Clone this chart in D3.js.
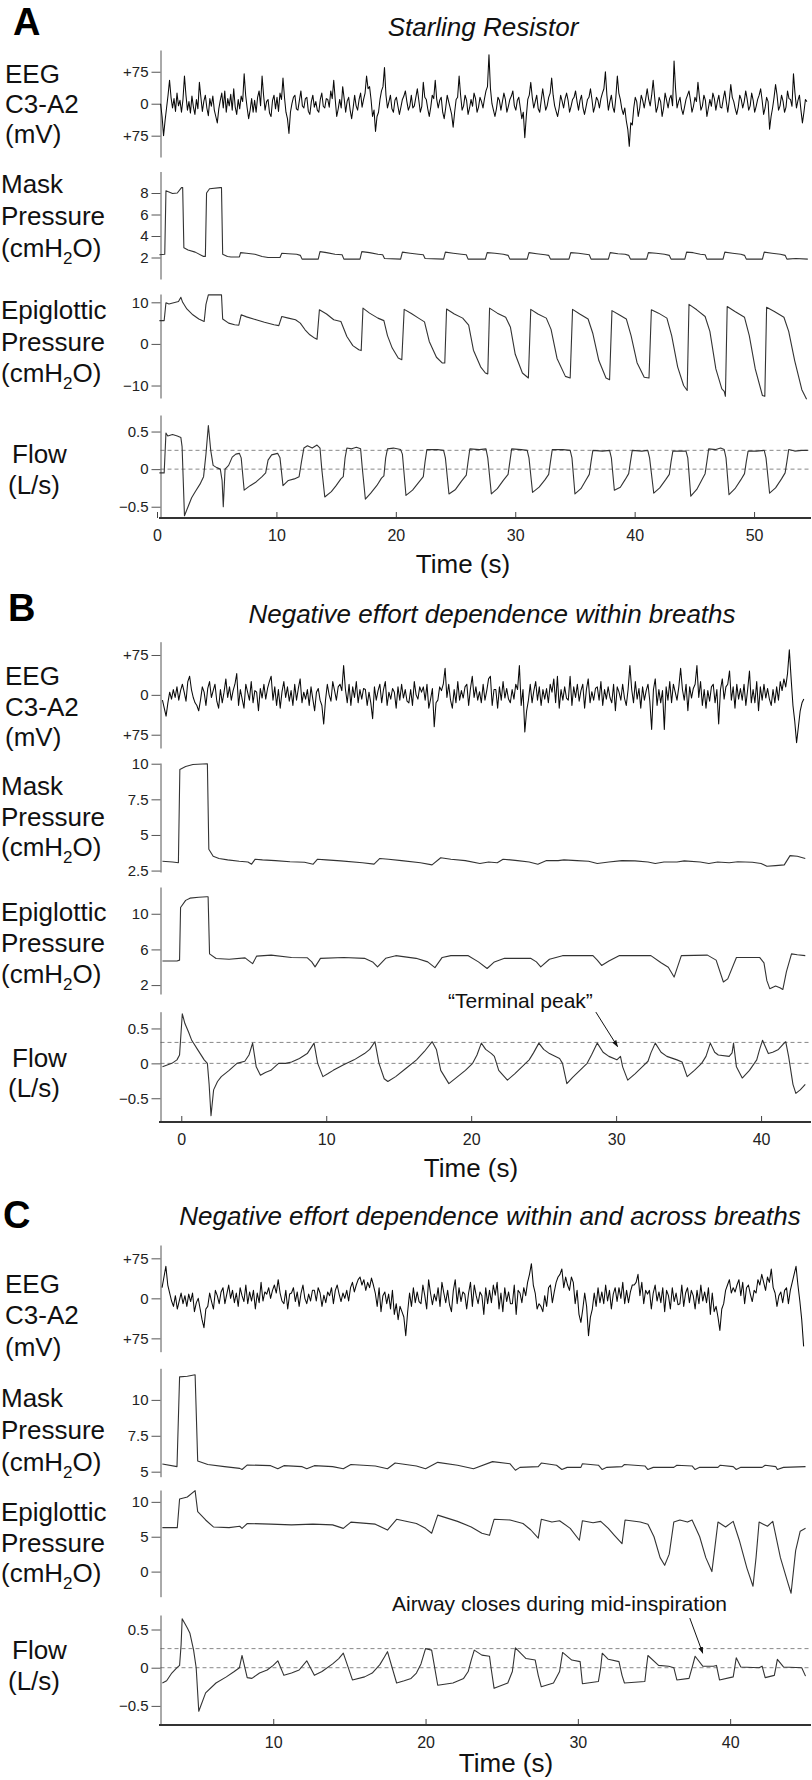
<!DOCTYPE html>
<html><head><meta charset="utf-8">
<script src="https://cdn.jsdelivr.net/npm/d3@7/dist/d3.min.js"></script>
<style>
body{margin:0;background:#fff;}
svg{display:block;}
</style></head><body>
<svg id="chart" width="812" height="1780"></svg>
<script>
// ===================== DATA =====================
// Panel A (Starling Resistor) — time in s
const eegA_t0 = 0.3, eegA_dt = 0.125;
const eegA = [0,-30,-75,-40,-10,20,55,15, -10,12,-18,25,-5,8,-20,10, 65,20,-15,5,-22,18,-8,-25,
 10,-12,50,15,-18,6,20,-10, -28,12,-6,18,-15,-30,-45,-12, 8,25,-10,30,-20,12,-5,22,
 -15,35,-8,-25,10,-12,18,5, 70,20,-10,-35,-15,12,-20,8, -20,15,30,-5,65,20,-15,5,
 10,-22,-30,8,20,-12,15,-18, 25,10,60,15,-20,-35,-70,-20, 0,15,20,-12,-15,8,30,-5,
 -10,12,15,-18,-25,5,20,-8, 5,-15,-20,10,25,-6,-10,12, 10,-8,30,12,55,10,-30,-12,
 10,-10,40,12,-20,6,15,-15, -35,-10,20,-5,-15,10,25,-8, 10,25,65,35,40,10,-30,-15,
 -65,-30,-20,10,30,40,85,20, -10,5,20,-12,-20,8,15,-6, -25,-8,10,18,30,5,-15,-5,
 20,-10,-5,15,35,8,-20,-6, 50,15,10,-12,-30,-8,20,12, 55,10,-10,8,15,-20,-35,-10,
 20,5,-10,-25,-55,-20,10,15, 65,20,-15,-5,20,8,-25,-10, 10,-6,25,12,-20,-8,15,5,
 -10,12,30,40,115,35,0,-15, -30,-12,15,8,-15,5,25,10, -20,-6,10,18,30,-5,-15,8,
 15,-10,-35,-20,-80,-30,10,20, 50,15,-10,5,20,-12,-20,8, 35,10,-15,-5,15,25,60,20,
 -5,-18,-30,-10,20,6,-10,12, 25,8,-20,-6,10,15,30,5, -15,8,20,-10,-25,-8,10,15,
 35,10,-20,-6,15,8,-10,12, 25,35,75,20,-15,5,20,-8, -20,15,65,25,10,-12,-25,-10,
 -40,-60,-100,-45,-50,-10,15,5, -30,-10,20,8,-10,12,35,10, -5,20,55,15,-20,-8,15,5,
 -30,-10,25,8,-10,12,20,-5, 100,35,-10,5,15,-12,-25,-8, 10,20,30,8,-20,-6,15,5,
 50,15,-15,-5,20,8,-30,-10, 10,-6,25,12,-15,5,20,-8, -10,12,30,5,-20,8,45,15,
 5,-12,-25,-8,20,10,-10,5, 30,10,-15,-5,25,8,-20,-6, 10,20,35,8,-25,-10,15,5,
 -60,-30,-10,15,45,20,-15,-5, 20,6,-20,-8,30,12,10,-6, 70,25,-10,8,20,-15,-45,-20,
 10,5];
const maskA = [[0.2,2.25],[0.65,2.3],[0.75,8.2],[1.0,8.1],[1.3,7.95],[1.7,8.0],[2.05,8.5],[2.15,8.5],[2.25,2.9],[2.6,2.7],[3.2,2.5],[3.9,2.1],[4.05,2.1],[4.15,8.0],[4.4,8.4],[5.3,8.5],[5.4,8.5],[5.5,2.3],[5.9,2.1],[6.2,2.05],[6.9,2.05],[7.0,2.45],[7.5,2.4],[8.2,2.3],[8.8,2.1],[9.3,2.0],[10.3,2.0],[10.45,2.4],[11.0,2.35],[11.7,2.3],[12.0,2.2],[12.15,1.85],[13.5,1.85],[13.65,2.55],[14.2,2.45],[14.9,2.3],[15.5,2.25],[15.65,1.85],[17.0,1.85],[17.15,2.55],[17.8,2.45],[18.5,2.3],[18.9,2.25],[19.05,1.9],[20.4,1.85],[20.55,2.5],[21.2,2.4],[21.9,2.3],[22.3,2.25],[22.45,1.9],[24.0,1.85],[24.15,2.5],[24.8,2.4],[25.5,2.3],[25.9,2.25],[26.05,1.85],[27.5,1.85],[27.65,2.45],[28.3,2.4],[29.0,2.3],[29.4,2.2],[29.55,1.85],[31.0,1.85],[31.15,2.45],[31.8,2.35],[32.5,2.25],[32.8,2.2],[32.95,1.85],[34.5,1.85],[34.65,2.45],[35.3,2.4],[35.9,2.3],[36.2,2.25],[36.35,1.85],[37.8,1.85],[37.95,2.45],[38.6,2.35],[39.2,2.3],[39.5,2.2],[39.65,1.85],[41.0,1.85],[41.15,2.45],[41.8,2.4],[42.5,2.3],[42.9,2.2],[43.05,1.85],[44.2,1.85],[44.35,2.5],[44.9,2.45],[45.5,2.3],[45.9,2.25],[46.05,1.85],[47.4,1.85],[47.55,2.5],[48.2,2.4],[48.9,2.3],[49.2,2.2],[49.35,1.85],[50.7,1.85],[50.85,2.5],[51.5,2.4],[52.2,2.3],[52.6,2.2],[52.75,1.85],[53.5,1.9],[54.5,1.85]];
const epiA = [[0.2,5.6],[0.6,5.6],[0.75,9.9],[1.0,9.6],[1.4,9.9],[1.8,10.2],[2.0,11.2],[2.15,10.0],[2.5,8.4],[3.0,7.0],[3.5,6.0],[3.95,5.4],[4.1,9.5],[4.3,11.8],[5.4,11.8],[5.5,6.0],[6.0,5.0],[6.5,4.6],[6.85,4.5],[7.05,7.0],[7.5,6.5],[8.3,5.8],[9.0,5.2],[9.8,4.6],[10.2,4.4],[10.45,6.6],[11.0,6.2],[11.6,5.8],[12.0,5.0],[12.4,3.4],[12.8,2.2],[13.2,1.4],[13.4,1.1],[13.6,8.2],[14.2,7.2],[14.8,5.8],[15.4,5.4],[15.9,1.8],[16.4,-0.4],[16.9,-1.4],[17.1,-1.6],[17.25,8.6],[17.8,7.4],[18.5,6.2],[19.0,5.6],[19.3,2.0],[19.7,-1.0],[20.2,-3.4],[20.5,-3.8],[20.7,8.3],[21.3,7.3],[21.9,6.2],[22.4,5.3],[22.8,0.6],[23.4,-3.2],[23.9,-4.6],[24.1,-4.6],[24.25,8.4],[24.9,7.2],[25.6,6.2],[26.1,4.5],[26.5,-1.5],[27.1,-5.5],[27.5,-7.0],[27.7,-7.2],[27.85,8.6],[28.5,7.4],[29.2,6.4],[29.6,4.0],[30.0,-2.5],[30.6,-7.0],[31.1,-8.2],[31.3,8.3],[31.9,7.2],[32.6,6.2],[33.0,3.5],[33.5,-3.5],[34.2,-7.8],[34.6,-8.2],[34.8,8.3],[35.4,7.2],[36.1,6.0],[36.5,2.5],[37.0,-4.0],[37.6,-8.2],[37.9,-8.6],[38.1,8.0],[38.7,7.0],[39.3,6.0],[39.7,2.0],[40.2,-4.5],[40.8,-8.0],[41.2,-8.2],[41.4,8.2],[42.0,7.4],[42.7,6.2],[43.1,2.0],[43.6,-5.5],[44.1,-10.0],[44.4,-11.2],[44.55,9.5],[45.2,8.2],[45.9,6.6],[46.3,3.0],[46.8,-6.0],[47.3,-10.8],[47.5,-11.4],[47.6,-12.6],[47.75,9.0],[48.4,7.8],[49.2,6.4],[49.6,2.0],[50.1,-6.0],[50.7,-12.4],[50.9,-12.6],[51.05,8.8],[51.7,7.8],[52.5,6.4],[52.9,3.0],[53.4,-4.0],[54.0,-11.0],[54.4,-13.3]];
const flowA = [[0.2,-0.05],[0.6,-0.05],[0.75,0.48],[0.9,0.44],[1.3,0.46],[1.7,0.44],[2.0,0.42],[2.1,0.3],[2.3,-0.62],[2.6,-0.5],[2.9,-0.38],[3.2,-0.3],[3.6,-0.2],[3.9,-0.1],[4.1,0.2],[4.3,0.58],[4.5,0.25],[4.7,0.05],[5.0,0.02],[5.3,0.0],[5.45,-0.15],[5.55,-0.5],[5.7,0.0],[6.0,0.05],[6.3,0.16],[6.6,0.2],[6.9,0.21],[7.05,0.15],[7.3,-0.28],[7.8,-0.22],[8.3,-0.17],[8.8,-0.1],[9.1,-0.05],[9.3,0.12],[9.6,0.19],[10.1,0.21],[10.3,0.15],[10.55,-0.22],[11.0,-0.15],[11.5,-0.13],[11.9,-0.1],[12.1,0.1],[12.3,0.28],[12.6,0.31],[13.0,0.28],[13.4,0.32],[13.65,0.28],[13.8,0.0],[14.05,-0.37],[14.6,-0.3],[15.0,-0.22],[15.4,-0.13],[15.6,-0.1],[15.75,0.15],[15.9,0.28],[16.3,0.27],[16.7,0.29],[17.05,0.27],[17.2,0.0],[17.45,-0.4],[17.9,-0.32],[18.4,-0.22],[18.8,-0.12],[19.0,-0.09],[19.15,0.15],[19.3,0.27],[19.8,0.28],[20.4,0.26],[20.55,0.2],[20.85,-0.35],[21.4,-0.28],[21.9,-0.18],[22.3,-0.1],[22.45,0.1],[22.6,0.26],[23.5,0.26],[24.0,0.25],[24.15,0.15],[24.45,-0.33],[25.0,-0.27],[25.5,-0.16],[25.9,-0.08],[26.05,0.1],[26.2,0.27],[27.0,0.26],[27.55,0.27],[27.7,0.15],[28.0,-0.33],[28.5,-0.26],[29.0,-0.15],[29.4,-0.07],[29.55,0.1],[29.7,0.27],[30.5,0.26],[31.0,0.25],[31.15,0.15],[31.45,-0.31],[32.0,-0.24],[32.5,-0.14],[32.8,-0.07],[32.95,0.1],[33.1,0.26],[34.0,0.26],[34.6,0.25],[34.75,0.15],[35.0,-0.33],[35.5,-0.26],[35.9,-0.15],[36.2,-0.07],[36.35,0.1],[36.5,0.25],[37.3,0.24],[37.9,0.25],[38.05,0.15],[38.3,-0.28],[38.8,-0.24],[39.2,-0.14],[39.5,-0.06],[39.65,0.1],[39.8,0.25],[40.6,0.24],[41.1,0.25],[41.25,0.15],[41.6,-0.32],[42.1,-0.25],[42.6,-0.14],[42.9,-0.07],[43.05,0.1],[43.2,0.24],[43.8,0.24],[44.3,0.24],[44.45,0.15],[44.7,-0.36],[45.2,-0.27],[45.6,-0.15],[45.9,-0.06],[46.05,0.1],[46.2,0.27],[46.8,0.26],[47.2,0.28],[47.5,0.26],[47.65,0.15],[47.9,-0.34],[48.4,-0.26],[48.9,-0.14],[49.2,-0.06],[49.35,0.1],[49.5,0.24],[50.2,0.24],[50.85,0.25],[51.0,0.15],[51.3,-0.32],[51.8,-0.25],[52.3,-0.13],[52.6,-0.05],[52.75,0.1],[52.9,0.26],[53.4,0.24],[54.0,0.25],[54.5,0.25]];

// Panel B (within breaths)
const eegB_t0 = -1.3, eegB_dt = 0.125;
const eegB = [-10,-25,-40,-15,5,-8,10,-5, 15,-10,8,20,5,-12,25,35, 10,-5,-15,-20,-30,-10,15,5,
 -20,12,25,-5,8,20,-12,-25, 10,-15,5,30,-5,15,-10,8, 20,40,-20,10,-8,-25,20,5,
 -10,25,-15,8,5,-30,12,-6, 20,-8,12,25,35,-10,15,-20, 10,-25,6,25,-5,15,-12,8,
 -20,20,-10,12,30,-15,5,-8, 10,-20,15,-8,-30,5,12,-10, -20,-55,-10,20,0,-12,25,8,
 -10,15,20,8,55,10,-15,20, -20,15,-5,25,-15,10,-8,12, 10,-20,5,-15,-45,15,-10,8,
 20,-15,10,25,-20,5,-8,12, 5,-25,15,-10,20,-6,10,-12, -15,10,-20,25,0,-8,15,5,
 15,-10,20,-25,-8,12,-60,-15, -10,15,8,20,50,-5,20,-10, -25,10,-15,25,-10,8,-6,15,
 20,-20,12,35,-5,15,-10,6, -15,20,-10,8,30,35,-20,10, 10,-25,15,-10,25,-6,12,-8,
 -15,10,-8,20,10,55,-20,10, -70,-30,-10,20,-15,8,25,-10, 15,-20,10,-8,12,-15,20,5,
 30,-15,35,-25,10,-10,15,-6, -10,35,-20,15,-5,20,-12,8, 20,-25,10,30,-15,6,-10,12,
 15,-10,25,-20,10,-8,15,-5, -15,20,-30,15,5,-10,20,-6, -20,10,55,10,-15,25,-8,12,
 -25,15,-10,8,20,-12,-65,10, 30,-20,10,-15,8,-65,15,-10, 25,-15,20,5,-10,15,50,10,
 -10,20,-30,15,-6,12,20,55, -5,25,-20,10,-25,8,-12,15, 20,-15,10,-55,10,30,-8,15,
 20,45,-10,15,-25,20,-8,12, -10,20,-20,10,45,-15,10,-15, 25,-30,15,-10,20,-6,12,-8,
 -20,10,-15,15,-10,25,8,30, 15,40,85,30,-20,-50,-90,-60, -30,-15,-8];
const maskB = [[-1.3,3.15],[-0.6,3.1],[-0.2,3.05],[-0.1,9.6],[0.3,9.8],[0.8,9.95],[1.8,10.0],[1.9,4.0],[2.2,3.5],[2.6,3.35],[3.2,3.25],[4.0,3.15],[4.6,3.1],[4.85,2.95],[5.1,3.3],[5.6,3.25],[6.5,3.2],[7.5,3.12],[8.5,3.08],[9.1,2.95],[9.4,3.3],[10.0,3.25],[11.0,3.18],[12.5,3.05],[13.3,2.95],[13.7,3.35],[14.3,3.3],[15.2,3.2],[16.5,3.05],[17.3,2.9],[17.9,3.4],[18.6,3.3],[19.6,3.2],[20.6,3.0],[21.2,3.1],[21.8,3.05],[22.2,3.3],[23.2,3.2],[24.0,3.1],[24.6,2.95],[25.2,3.2],[26.0,3.2],[26.4,3.25],[27.3,3.2],[28.1,3.15],[28.7,3.0],[29.5,3.1],[30.4,3.2],[31.3,3.18],[32.2,3.1],[32.7,3.0],[33.3,3.1],[34.2,3.1],[34.7,3.18],[35.8,3.1],[36.4,3.0],[37.0,3.1],[37.8,3.05],[38.4,3.12],[39.4,3.08],[40.0,3.0],[40.4,2.8],[41.0,2.85],[41.6,2.9],[42.0,3.55],[42.5,3.5],[43.05,3.35]];
const epiB = [[-1.3,4.7],[-0.3,4.7],[-0.12,4.8],[-0.05,10.7],[0.3,11.5],[0.6,11.75],[1.2,11.85],[1.75,11.9],[1.85,11.9],[1.95,5.5],[2.4,4.98],[3.3,4.9],[4.4,5.05],[4.6,4.8],[4.92,4.4],[5.2,5.25],[6.2,5.36],[7.6,5.1],[8.7,5.06],[9.0,4.6],[9.23,4.04],[9.6,5.0],[11.2,5.1],[12.64,5.0],[13.2,4.6],[13.54,4.04],[14.1,5.0],[14.8,5.3],[16.2,5.0],[17.0,4.6],[17.5,3.96],[18.0,5.1],[18.6,5.3],[19.8,5.3],[20.5,4.6],[21.1,3.86],[21.6,4.6],[22.3,5.0],[24.1,5.0],[24.5,4.6],[24.8,4.04],[25.4,4.9],[26.3,5.3],[28.4,5.3],[28.7,4.8],[29.0,4.2],[29.5,4.7],[30.2,5.3],[32.4,5.3],[33.1,4.5],[33.6,4.0],[34.0,2.9],[34.5,5.3],[36.3,5.36],[36.9,4.8],[37.4,2.35],[37.7,2.7],[38.3,5.1],[39.9,5.1],[40.2,4.5],[40.4,2.5],[40.6,1.6],[41.0,1.9],[41.3,1.7],[41.5,1.5],[41.75,3.5],[42.1,5.5],[42.5,5.4],[43.05,5.3]];
const flowB = [[-1.3,-0.05],[-0.65,0.0],[-0.3,0.05],[-0.12,0.12],[0.07,0.71],[0.25,0.57],[0.5,0.45],[0.72,0.33],[1.15,0.19],[1.58,0.05],[1.8,0.0],[1.92,-0.3],[2.05,-0.75],[2.23,-0.38],[2.5,-0.26],[2.76,-0.19],[3.3,-0.1],[3.84,0.0],[4.38,0.03],[4.67,0.12],[4.92,0.29],[5.17,-0.05],[5.46,-0.17],[5.8,-0.13],[6.18,-0.1],[6.71,0.0],[7.2,0.0],[7.61,0.02],[8.15,0.07],[8.69,0.14],[9.16,0.29],[9.41,0.0],[9.77,-0.19],[10.1,-0.15],[10.48,-0.1],[11.2,-0.02],[11.92,0.05],[12.64,0.14],[13.0,0.2],[13.36,0.31],[13.64,0.0],[14.0,-0.22],[14.25,-0.26],[14.79,-0.19],[15.51,-0.07],[16.23,0.05],[16.77,0.17],[17.31,0.31],[17.6,0.2],[17.9,-0.1],[18.46,-0.29],[19.0,-0.2],[19.6,-0.1],[20.1,0.0],[20.4,0.12],[20.7,0.29],[21.0,0.2],[21.4,0.14],[21.6,0.1],[21.9,-0.1],[22.5,-0.24],[23.0,-0.15],[23.5,-0.05],[24.0,0.05],[24.3,0.15],[24.67,0.29],[25.0,0.2],[25.4,0.14],[26.1,0.07],[26.3,0.0],[26.6,-0.29],[27.0,-0.2],[27.5,-0.1],[28.0,0.0],[28.3,0.12],[28.7,0.29],[29.1,0.16],[29.5,0.1],[30.05,0.05],[30.3,0.1],[30.45,-0.05],[30.8,-0.24],[31.3,-0.15],[31.8,-0.05],[32.2,0.03],[32.4,0.15],[32.7,0.29],[33.1,0.16],[33.5,0.1],[34.2,0.05],[34.55,0.02],[34.9,-0.19],[35.4,-0.1],[35.9,0.0],[36.2,0.1],[36.5,0.29],[36.8,0.16],[37.05,0.12],[37.8,0.1],[38.0,0.15],[38.1,0.29],[38.3,-0.05],[38.7,-0.21],[39.2,-0.1],[39.7,0.05],[39.9,0.2],[40.1,0.33],[40.5,0.14],[40.8,0.16],[41.2,0.2],[41.5,0.27],[41.7,0.31],[41.9,0.1],[42.2,-0.3],[42.4,-0.43],[42.7,-0.38],[43.05,-0.3]];

// Panel C (within and across breaths)
const eegC_t0 = 2.7, eegC_dt = 0.125;
const eegC = [20,40,60,25,10,-5,-15,5, -20,-5,10,-10,5,-15,8,-6, 10,-25,-8,0,-20,-40,-55,-20,
 -15,10,-6,-20,15,5,-10,12, 20,-10,8,25,0,15,-8,10, -15,20,5,-6,25,-10,12,-5,
 15,-20,10,-8,30,-5,12,8, 20,0,15,25,10,35,10,-5, -10,15,-20,8,10,20,-6,12,
 -15,10,25,0,-10,8,-5,15, 15,-5,20,10,-15,6,-8,12, 5,20,-10,15,25,8,-6,10,
 0,15,-5,20,30,12,25,35, 40,25,35,15,30,20,38,25, 10,-15,20,-25,5,12,-10,8,
 -20,15,-30,-10,-40,-15,-25,-35, -70,-25,10,-15,20,-8,12,-6, -10,25,5,-20,35,10,-12,8,
 -5,20,-15,30,10,-8,15,-12, -25,15,35,-10,20,-6,12,8, -20,10,30,-15,25,5,-10,12,
 5,-30,20,-10,15,-8,25,6, 30,-20,10,-25,20,-6,12,-10, -10,25,-30,15,10,-8,20,5,
 30,45,65,25,10,-20,-10,-15, -25,5,-15,20,25,-8,12,30, 40,45,55,20,40,25,15,40,
 30,-10,15,-30,-45,-20,10,-15, -70,-35,-20,10,-15,20,-8,12, -10,25,-5,15,-20,8,20,-6,
 20,0,30,-10,15,-8,12,25, 25,30,45,5,30,-10,15,8, 15,-20,10,25,-5,12,-8,20,
 -25,15,5,-20,20,-6,10,-12, -10,25,-15,10,20,-8,15,5, -20,15,-10,25,-5,12,-8,20,
 -30,10,-25,-15,-35,-60,-20,-10, 15,25,35,10,20,12,25,35, 5,30,-10,20,25,8,-6,15,
 10,35,25,45,30,15,40,30, 55,20,10,-15,5,12,-8,15, 20,-10,15,30,45,60,25,-5,
 -40,-90];
const maskC = [[2.72,5.53],[3.68,5.35],[3.85,11.6],[4.36,11.65],[4.87,11.75],[5.04,5.75],[5.7,5.5],[6.8,5.35],[7.8,5.23],[7.95,5.15],[8.3,5.47],[9.83,5.42],[10.3,5.2],[10.7,5.42],[11.9,5.35],[12.2,5.2],[12.7,5.42],[13.9,5.35],[14.6,5.2],[15.1,5.5],[16.7,5.4],[17.5,5.2],[18.0,5.6],[19.4,5.4],[20.0,5.2],[20.8,5.65],[22.1,5.45],[23.15,5.2],[24.4,5.7],[25.55,5.55],[25.9,5.1],[26.2,5.3],[27.4,5.35],[27.6,5.6],[28.6,5.45],[28.95,5.15],[29.3,5.3],[30.2,5.3],[30.3,5.55],[31.35,5.45],[31.6,5.15],[31.9,5.3],[32.9,5.35],[33.06,5.5],[34.4,5.4],[34.6,5.15],[34.95,5.3],[36.3,5.3],[36.5,5.45],[37.5,5.4],[37.7,5.15],[38.0,5.3],[39.2,5.3],[39.35,5.45],[40.2,5.35],[40.4,5.15],[40.7,5.3],[42.1,5.3],[42.3,5.45],[43.0,5.35],[43.1,5.15],[43.5,5.3],[44.95,5.35]];
const epiC = [[2.72,6.3],[3.7,6.3],[3.85,10.4],[4.36,10.7],[4.87,11.6],[5.04,8.6],[5.56,7.4],[6.07,6.4],[7.1,6.3],[7.8,6.5],[7.95,6.2],[8.3,6.9],[9.83,6.8],[11.2,6.7],[12.6,6.8],[13.9,6.7],[14.6,6.2],[15.1,7.1],[16.7,6.8],[17.5,5.95],[18.1,7.5],[19.4,6.9],[20.0,6.2],[20.4,5.5],[20.8,8.1],[22.1,7.2],[23.0,6.4],[23.7,5.5],[24.2,5.2],[24.5,7.5],[25.55,7.4],[26.4,6.9],[26.9,6.0],[27.4,4.8],[27.6,7.5],[28.3,7.1],[28.8,7.3],[29.5,6.2],[30.1,4.5],[30.3,7.3],[31.0,7.0],[31.5,7.2],[32.0,6.2],[32.4,5.2],[32.9,4.0],[33.1,7.4],[34.1,7.1],[34.6,6.8],[35.0,5.0],[35.4,2.0],[35.7,0.9],[36.0,2.5],[36.3,7.1],[36.7,7.4],[37.2,7.1],[37.5,7.4],[38.0,5.0],[38.4,2.0],[38.8,0.0],[39.0,3.5],[39.2,7.1],[39.7,6.4],[40.2,7.2],[40.6,4.5],[41.1,0.5],[41.5,-2.1],[41.7,2.0],[41.9,7.1],[42.45,6.5],[42.8,7.2],[43.3,2.0],[43.8,-1.7],[44.0,-3.1],[44.3,3.0],[44.6,5.8],[44.95,6.2]];
const flowC = [[2.72,-0.2],[3.0,-0.17],[3.34,-0.07],[3.68,0.0],[3.85,0.03],[3.95,0.3],[4.02,0.64],[4.36,0.52],[4.53,0.45],[4.77,0.23],[4.94,0.0],[5.11,-0.57],[5.56,-0.33],[6.24,-0.2],[6.92,-0.12],[7.44,-0.05],[7.78,0.0],[7.95,0.16],[8.29,-0.13],[8.6,-0.14],[9.1,-0.07],[9.6,-0.03],[10.0,0.03],[10.3,0.09],[10.7,-0.1],[11.2,-0.07],[11.7,-0.03],[12.2,0.09],[12.7,-0.1],[13.2,-0.05],[13.9,0.05],[14.3,0.12],[14.6,0.19],[15.2,-0.16],[16.0,-0.12],[16.5,-0.07],[17.0,0.04],[17.3,0.14],[17.5,0.21],[18.1,-0.2],[18.6,-0.17],[19.05,-0.14],[19.4,-0.07],[19.7,0.05],[20.0,0.25],[20.4,0.23],[20.6,0.0],[20.8,-0.23],[21.8,-0.2],[22.5,-0.14],[22.8,-0.05],[23.0,0.1],[23.2,0.23],[23.7,0.165],[24.2,0.15],[24.3,0.0],[24.5,-0.27],[25.4,-0.2],[25.7,-0.05],[25.9,0.26],[26.6,0.12],[27.2,0.1],[27.4,-0.1],[27.6,-0.25],[28.4,-0.2],[28.8,-0.05],[29.0,0.2],[29.6,0.1],[30.15,0.08],[30.3,-0.21],[31.35,-0.18],[31.5,0.0],[31.6,0.19],[32.0,0.11],[32.7,0.08],[32.9,-0.1],[33.06,-0.2],[34.4,-0.18],[34.5,0.0],[34.6,0.16],[35.3,0.03],[35.96,0.02],[36.3,0.0],[36.5,-0.16],[37.3,-0.14],[37.5,0.0],[37.7,0.15],[38.2,0.02],[38.9,0.02],[39.1,0.03],[39.3,-0.16],[40.2,-0.12],[40.3,0.0],[40.4,0.13],[40.7,0.01],[41.9,0.0],[42.1,0.02],[42.3,-0.13],[42.9,-0.1],[43.0,0.0],[43.1,0.11],[43.5,0.01],[44.7,0.0],[44.95,-0.11]];

// Tick values / labels
const timeTicksA = [0,10,20,30,40,50];
const timeTicksB = [0,10,20,30,40];
const timeTicksC = [10,20,30,40];
const eegTicks = [75,0,-75];
const maskTicksA = [2,4,6,8];
const maskTicksB = [2.5,5,7.5,10];
const maskTicksC = [5,7.5,10];
const epiTicksA = [-10,0,10];
const epiTicksB = [2,6,10];
const epiTicksC = [0,5,10];
const flowTicks = [-0.5,0,0.5];
const flowRefA = [0.25,0], flowRefB = [0.3,0], flowRefC = [0.25,0];
const panelLetters = ['A','B','C'];
const panelTitles = ['Starling Resistor','Negative effort dependence within breaths','Negative effort dependence within and across breaths'];
const annotB = {text:'\u201cTerminal peak\u201d', tx:23.4, ty:0.79, from:[28.6,0.735], to:[30.1,0.24]};
const annotC = {text:'Airway closes during mid-inspiration', tx:28.8, ty:0.742, from:[37.35,0.65], to:[38.2,0.19]};

// ===================== DRAWING =====================
const FONT = '"Liberation Sans", Arial, Helvetica, sans-serif';
const svg = d3.select('#chart').attr('font-family', FONT);
const AXIS_X = 160.5;
const axisCol = '#555', traceCol = '#333';

const samples = (t0, dt, vals) => vals.map((v,i) => [t0 + i*dt, v]);
const fmtEEG = d => d === 0 ? '0' : '+75';
const fmtFlow = d => d === 0 ? '0' : d3.format('.1f')(d);

const panels = [
 {xd:[0,54.6], xr:[157,809], xTicks:timeTicksA, axisY:518, timeX:463, timeY:573,
  letterX:13, letterY:35, titleX:483, titleY:36, refs:flowRefA,
  rows:[
   {data:samples(eegA_t0,eegA_dt,eegA), d:[-125,126], r:[157,50], ticks:eegTicks, fmt:fmtEEG, eeg:true, labels:['EEG','C3-A2','(mV)'], ly:[83,113,143], lx:5},
   {data:maskA, d:[0,10], r:[279,171.5], ticks:maskTicksA, fmt:d3.format('d'), labels:['Mask','Pressure','(cmH2O)'], ly:[193,225,257], lx:1},
   {data:epiA, d:[-13,12], r:[398,294], ticks:epiTicksA, fmt:d3.format('d'), labels:['Epiglottic','Pressure','(cmH2O)'], ly:[319,351,382], lx:1},
   {data:flowA, d:[-0.65,0.72], r:[518,415], ticks:flowTicks, fmt:fmtFlow, flow:true, labels:['Flow','(L/s)'], ly:[463,494], lx:[12,8]}
  ]},
 {xd:[-1.4,43.1], xr:[161,806], xTicks:timeTicksB, axisY:1122, timeX:471, timeY:1177,
  letterX:8, letterY:621, titleX:492, titleY:623, refs:flowRefB, annot:annotB,
  rows:[
   {data:samples(eegB_t0,eegB_dt,eegB), d:[-100,100], r:[748,641.7], ticks:eegTicks, fmt:fmtEEG, eeg:true, labels:['EEG','C3-A2','(mV)'], ly:[685,716,746], lx:5},
   {data:maskB, d:[2.4,10.05], r:[872,763], ticks:maskTicksB, fmt:d=>String(d), labels:['Mask','Pressure','(cmH2O)'], ly:[795,826,856], lx:1},
   {data:epiB, d:[1,13], r:[994,887], ticks:epiTicksB, fmt:d3.format('d'), labels:['Epiglottic','Pressure','(cmH2O)'], ly:[921,952,983], lx:1},
   {data:flowB, d:[-0.84,0.74], r:[1122,1011.7], ticks:flowTicks, fmt:fmtFlow, flow:true, labels:['Flow','(L/s)'], ly:[1067,1097], lx:[12,8]}
  ]},
 {xd:[2.63,44.98], xr:[161,806], xTicks:timeTicksC, axisY:1725, timeX:506, timeY:1772,
  letterX:3, letterY:1228, titleX:490, titleY:1225, refs:flowRefC, annot:annotC,
  rows:[
   {data:samples(eegC_t0,eegC_dt,eegC), d:[-100,100], r:[1351.7,1245], ticks:eegTicks, fmt:fmtEEG, eeg:true, labels:['EEG','C3-A2','(mV)'], ly:[1293,1324,1356], lx:5},
   {data:maskC, d:[4.65,12.2], r:[1476.7,1368.3], ticks:maskTicksC, fmt:d=>String(d), labels:['Mask','Pressure','(cmH2O)'], ly:[1407,1439,1471], lx:1},
   {data:epiC, d:[-3.6,11.7], r:[1596.7,1490], ticks:epiTicksC, fmt:d3.format('d'), labels:['Epiglottic','Pressure','(cmH2O)'], ly:[1521,1552,1582], lx:1},
   {data:flowC, d:[-0.75,0.69], r:[1725,1615], ticks:flowTicks, fmt:fmtFlow, flow:true, labels:['Flow','(L/s)'], ly:[1659,1690], lx:[12,8]}
  ]}
];

svg.append('defs').append('marker').attr('id','arr').attr('viewBox','0 0 10 10')
  .attr('refX',9).attr('refY',5).attr('markerWidth',7).attr('markerHeight',7).attr('orient','auto')
  .append('path').attr('d','M0,1.5 L10,5 L0,8.5 Z').attr('fill','#111');

function rowLabel(g, txt, x, y){
  const t = g.append('text').attr('x', x).attr('y', y).attr('font-size', 26).attr('fill', '#111');
  if (txt === '(cmH2O)') {
    t.append('tspan').text('(cmH');
    t.append('tspan').text('2').attr('font-size', 17).attr('dy', 7);
    t.append('tspan').text('O)').attr('dy', -7);
  } else t.text(txt);
}

panels.forEach((p, pi) => {
  const g = svg.append('g');
  const x = d3.scaleLinear().domain(p.xd).range(p.xr);

  g.append('text').attr('x', p.letterX).attr('y', p.letterY).attr('font-size', 38)
    .attr('font-weight', 'bold').attr('fill', '#000').text(panelLetters[pi]);
  g.append('text').attr('x', p.titleX).attr('y', p.titleY).attr('font-size', 26)
    .attr('font-style', 'italic').attr('text-anchor', 'middle').attr('fill', '#111').text(panelTitles[pi]);

  p.rows.forEach(row => {
    const y = d3.scaleLinear().domain(row.d).range(row.r);
    if (row.flow) {
      p.refs.forEach(v => {
        g.append('line').attr('x1', AXIS_X).attr('x2', 810).attr('y1', y(v)).attr('y2', y(v))
          .attr('stroke', '#888').attr('stroke-width', 1).attr('stroke-dasharray', '4,3');
      });
    }
    const ax = g.append('g').attr('transform', `translate(${AXIS_X},0)`)
      .call(d3.axisLeft(y).tickValues(row.ticks).tickFormat(row.fmt).tickSize(9).tickSizeOuter(0).tickPadding(3));
    ax.attr('font-family', FONT).attr('font-size', 15);
    ax.selectAll('.domain').attr('stroke', axisCol);
    ax.selectAll('.tick line').attr('stroke', axisCol);
    ax.selectAll('.tick text').attr('fill', '#222');

    const line = d3.line().x(d => x(d[0])).y(d => y(d[1]));
    g.append('path').datum(row.data).attr('d', line).attr('fill', 'none')
      .attr('stroke', row.eeg ? '#0a0a0a' : traceCol).attr('stroke-width', row.eeg ? 1.05 : 1.1)
      .attr('stroke-linejoin', 'round');

    row.labels.forEach((L, i) => rowLabel(g, L, Array.isArray(row.lx) ? row.lx[i] : row.lx, row.ly[i]));

    if (row.flow && p.annot) {
      const a = p.annot;
      g.append('text').attr('x', x(a.tx)).attr('y', y(a.ty)).attr('text-anchor', 'middle')
        .attr('font-size', 21).attr('fill', '#111').text(a.text);
      g.append('line').attr('x1', x(a.from[0])).attr('y1', y(a.from[1]))
        .attr('x2', x(a.to[0])).attr('y2', y(a.to[1]))
        .attr('stroke', '#111').attr('stroke-width', 1).attr('marker-end', 'url(#arr)');
    }
  });

  const xa = g.append('g').attr('transform', `translate(0,${p.axisY})`)
    .call(d3.axisBottom(x).tickValues(p.xTicks).tickSizeInner(-6).tickSizeOuter(0).tickPadding(12));
  xa.attr('font-family', FONT).attr('font-size', 16);
  xa.select('.domain').remove();
  xa.selectAll('.tick line').attr('stroke', '#444');
  xa.selectAll('.tick text').attr('fill', '#222');
  g.append('line').attr('x1', 159).attr('x2', 811).attr('y1', p.axisY).attr('y2', p.axisY)
    .attr('stroke', '#333').attr('stroke-width', 2);
  g.append('text').attr('x', p.timeX).attr('y', p.timeY).attr('text-anchor', 'middle')
    .attr('font-size', 26).attr('fill', '#111').text('Time (s)');
});
</script>
</body></html>
